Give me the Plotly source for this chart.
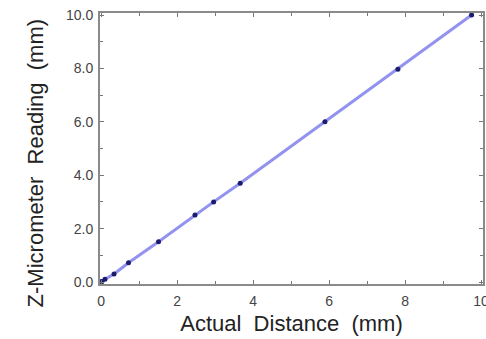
import plotly.graph_objects as go

# Calibration: actual stage displacement vs. Z-micrometer reading (mm)
actual_mm = [0.0, 0.02, 0.1, 0.34, 0.72, 1.51, 2.47, 2.96, 3.66, 5.89, 7.81, 9.75]
reading_mm = [0.0, 0.02, 0.1, 0.3, 0.72, 1.51, 2.51, 3.0, 3.7, 6.0, 7.97, 10.0]

x_ticks = [0, 2, 4, 6, 8, 10]
y_ticks = [0.0, 2.0, 4.0, 6.0, 8.0, 10.0]

FONT = "Liberation Sans, Arial, sans-serif"
NB = "\u00a0"

fig = go.Figure()
fig.add_trace(go.Scatter(
    x=actual_mm, y=reading_mm, mode="lines",
    line=dict(color="rgba(110,110,235,0.75)", width=3),
    hoverinfo="skip", showlegend=False,
))
fig.add_trace(go.Scatter(
    x=actual_mm, y=reading_mm, mode="markers",
    marker=dict(color="#1c1c6e", size=5, symbol="circle"),
    showlegend=False,
))

axis_common = dict(
    showgrid=False, zeroline=False,
    showline=True, linecolor="#8a8a8a", linewidth=2, mirror="ticks",
    ticks="inside", ticklen=4, tickwidth=1, tickcolor="#777",
    tickfont=dict(family=FONT, size=14, color="#444"),
)

fig.update_xaxes(
    range=[-0.03, 10.05], tickvals=x_ticks, ticktext=[str(v) for v in x_ticks],
    ticklabelstandoff=3, ticklabeloverflow="allow",
    minor=dict(ticks="inside", ticklen=3, dtick=1, tick0=0, tickcolor="#777", showgrid=False),
    title=dict(text=f"Actual{NB}{NB}Distance{NB}{NB}(mm)", standoff=8,
               font=dict(family=FONT, size=22, color="#222")),
    **axis_common,
)
fig.update_yaxes(
    range=[-0.075, 10.075], tickvals=y_ticks, ticktext=[f"{v:.1f}" for v in y_ticks],
    ticklabelstandoff=2,
    minor=dict(ticks="inside", ticklen=3, dtick=1, tick0=0, tickcolor="#777", showgrid=False),
    **axis_common,
)

# Vertical axis title, placed as a rotated annotation
fig.add_annotation(
    text=f"Z-Micrometer{NB}{NB}Reading{NB}{NB}(mm)",
    xref="paper", yref="paper", x=-0.169, y=0.446,
    xanchor="center", yanchor="middle", textangle=-90, showarrow=False,
    font=dict(family=FONT, size=22, color="#222"),
)

fig.update_layout(
    width=486, height=339,
    margin=dict(l=100, r=3, t=13, b=55, autoexpand=False),
    plot_bgcolor="white", paper_bgcolor="white",
)

fig.write_html("out.html")
